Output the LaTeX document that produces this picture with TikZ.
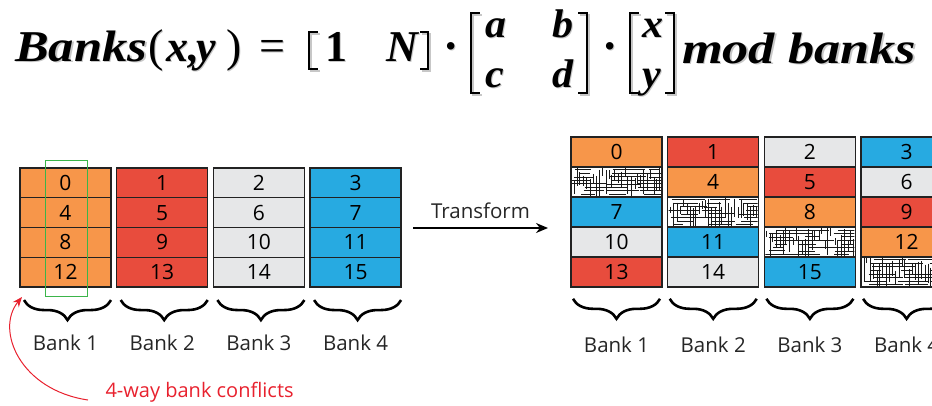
\documentclass[tikz,border=0pt]{standalone}
\usepackage{graphicx}
\usepackage{fontspec}
\setmainfont{Open Sans}
\newfontfamily\eqf{Liberation Serif}
\usetikzlibrary{decorations.pathreplacing,arrows.meta,calc}
\definecolor{corange}{HTML}{F7964A}
\definecolor{cred}{HTML}{E84C3D}
\definecolor{cgrey}{HTML}{E6E7E8}
\definecolor{cblue}{HTML}{27AAE1}
\definecolor{cgreen}{HTML}{3BB54A}
\definecolor{cline}{HTML}{222222}
\definecolor{cconf}{HTML}{E8212E}
\tikzset{
  cell/.style={draw=cline, line width=1.4pt, minimum width=91pt, minimum height=29.8pt,
    inner sep=0pt, outer sep=0pt, anchor=north west, font=\fontsize{21}{21}\selectfont},
  o/.style={cell, fill=corange}, r/.style={cell, fill=cred},
  g/.style={cell, fill=cgrey}, b/.style={cell, fill=cblue},
  h/.style={cell, fill=white},
  bbrace/.style={decorate, decoration={brace, mirror, amplitude=20pt}, line width=2.6pt},
  blabel/.style={font=\fontsize{20.5}{20.5}\selectfont, text=black!85},
  eqbase/.style={anchor=base west, inner sep=0pt, outer sep=0pt},
  brk/.style={line width=2.3pt, line cap=butt, line join=miter},
  hline/.style={line width=0.7pt, black!90},
}
\newcommand{\BI}[3]{\scalebox{#3}[1]{\fontsize{#1}{#1}\selectfont\eqf\bfseries\itshape #2}}
\newcommand{\RM}[2]{{\fontsize{#1}{#1}\selectfont\eqf #2}}
\newcommand{\eqp}[4]{%
  \node[eqbase, text=black!22] at ({#2+1.8},{#3+1.8}) {#4};
  \node[eqbase] (#1) at (#2,#3) {#4};}
% bracket: name, x of stroke, x of tick end, top, bottom
\newcommand{\eqbrack}[5]{%
  \draw[brk, black!22] ({#3+1.8},{#4+1.8}) -| ({#2+1.8},{#5+1.8}) -- ({#3+1.8},{#5+1.8});
  \draw[brk] (#3,#4) -| (#2,#5) -- (#3,#5) coordinate (#1);}
\newcommand{\hatchit}[2]{%
  \begin{scope}
    \clip (#1+1,#2+1) rectangle (#1+90,#2+29);
    \foreach \m in {0,...,27}{
      \pgfmathsetmacro{\xa}{#1+2+3.2*\m+rnd*1.5}
      \pgfmathsetmacro{\ya}{#2+rnd*14}
      \pgfmathsetmacro{\yb}{\ya+6+rnd*22}
      \draw[hline] (\xa,\ya) -- (\xa,\yb);
    }
    \foreach \k in {0,...,7}{
      \foreach \s in {0,1,2}{
        \pgfmathsetmacro{\xa}{#1+\s*33+rnd*14}
        \pgfmathsetmacro{\xb}{\xa+10+rnd*28}
        \pgfmathsetmacro{\yy}{#2+2.5+3.5*\k+rnd*0.8}
        \draw[hline] (\xa,\yy) -- (\xb,\yy);
      }
    }
  \end{scope}
  \draw[cline, line width=1.4pt] (#1,#2) rectangle (#1+91,#2+29.8);
}
\begin{document}
\begin{tikzpicture}[x=1pt,y=-1pt]
\useasboundingbox (0,0) rectangle (932,405);
\clip (0,0) rectangle (932,405);
\pgfmathsetseed{11}
% equation
\eqp{eBanks}{15}{61}{\BI{44}{Banks}{1.15}}
\eqp{eLp}{148}{61}{\RM{46}{(}}
\eqp{eX}{166}{61}{\BI{44}{x,}{1}}
\eqp{eY}{196}{61}{\BI{44}{y}{1}}
\eqp{eRp}{226}{61}{\RM{46}{)}}
\eqp{eEq}{259}{61}{\RM{46}{=}}
\eqbrack{b1}{309}{318}{32}{69}
\eqp{eOne}{325}{61}{\RM{44}{\bfseries 1}}
\eqp{eN}{386}{61}{\BI{44}{N}{1}}
\eqbrack{b2}{428}{420}{32}{69}
\eqp{eDot1}{443}{61}{\RM{46}{\bfseries ·}}
\eqbrack{b3}{471}{480}{13}{93}
\eqp{eA}{485}{37}{\BI{40}{a}{1.05}}
\eqp{eB}{552}{37}{\BI{40}{b}{1.05}}
\eqp{eC}{485}{87}{\BI{40}{c}{1.05}}
\eqp{eD}{552}{87}{\BI{40}{d}{1.05}}
\eqbrack{b4}{587}{578}{13}{93}
\eqp{eDot2}{602}{61}{\RM{46}{\bfseries ·}}
\eqbrack{b5}{630}{639}{13}{93}
\eqp{eX2}{642}{37}{\BI{40}{x}{1.05}}
\eqp{eY2}{642}{87}{\BI{40}{y}{1.05}}
\eqbrack{b6}{674}{665}{13}{93}
\eqp{eMod}{682}{63}{\BI{44}{mod banks}{1.19}}
% left banks
\foreach \col/\sty [count=\j from 0] in {0/o,1/r,2/g,3/b}{
  \foreach \i in {0,...,3}{
    \pgfmathtruncatemacro{\num}{\col+4*\i}
    \node[\sty] (L\j\i) at ({20+96.7*\j},{168+29.75*\i}) {\num};
  }
}
\node[draw=cgreen, line width=1.2pt, fill=none, inner sep=0pt, minimum width=42pt, minimum height=136pt, anchor=north west] (green) at (45,160) {};
% left braces and labels
\foreach \j in {0,...,3}{
  \pgfmathtruncatemacro{\n}{\j+1}
  \draw[bbrace] ([shift={(4pt,-13pt)}]L\j3.south west) -- ([shift={(0pt,-13pt)}]L\j3.south east);
  \node[blabel] (LB\j) at ([yshift=-56pt]L\j3.south) {Bank \n};
}
% transform arrow
\coordinate (ta) at (413,228);
\coordinate (tb) at (548,228);
\draw[line width=1.4pt, -{Stealth[length=12pt,width=10pt]}] (ta) -- (tb) node[midway, above=5pt, font=\fontsize{20.5}{20.5}\selectfont, text=black!85] (tr) {Transform};
% right banks
\node[o] (R00) at (571,137) {0};
\node[h] (R01) at (571,167) {};
\node[b] (R02) at (571,197) {7};
\node[g] (R03) at (571,227) {10};
\node[r] (R04) at (571,257) {13};
\node[r] (R10) at (667.7,137) {1};
\node[o] (R11) at (667.7,167) {4};
\node[h] (R12) at (667.7,197) {};
\node[b] (R13) at (667.7,227) {11};
\node[g] (R14) at (667.7,257) {14};
\node[g] (R20) at (764.4,137) {2};
\node[r] (R21) at (764.4,167) {5};
\node[o] (R22) at (764.4,197) {8};
\node[h] (R23) at (764.4,227) {};
\node[b] (R24) at (764.4,257) {15};
\node[b] (R30) at (861.1,137) {3};
\node[g] (R31) at (861.1,167) {6};
\node[r] (R32) at (861.1,197) {9};
\node[o] (R33) at (861.1,227) {12};
\node[h] (R34) at (861.1,257) {};
\hatchit{571}{167}
\hatchit{667.7}{197}
\hatchit{764.4}{227}
\hatchit{861.1}{257}
\foreach \j in {0,...,3}{
  \pgfmathtruncatemacro{\n}{\j+1}
  \draw[bbrace] ([shift={(2pt,-12pt)}]R\j4.south west) -- ([shift={(-2pt,-12pt)}]R\j4.south east);
  \node[blabel] (RB\j) at ([yshift=-58pt]R\j4.south) {Bank \n};
}
% conflicts
\node[anchor=west, text=cconf, font=\fontsize{20}{20}\selectfont] (conf) at (102,392) {4-way bank conflicts};
\coordinate (tip) at (22,297);
\draw[cconf, line width=1pt, -{Stealth[length=10pt,width=8pt]}] ([shift={(-14pt,-8pt)}]conf.west) .. controls (20,390) and (-5,330) .. (tip);
\end{tikzpicture}
\end{document}
